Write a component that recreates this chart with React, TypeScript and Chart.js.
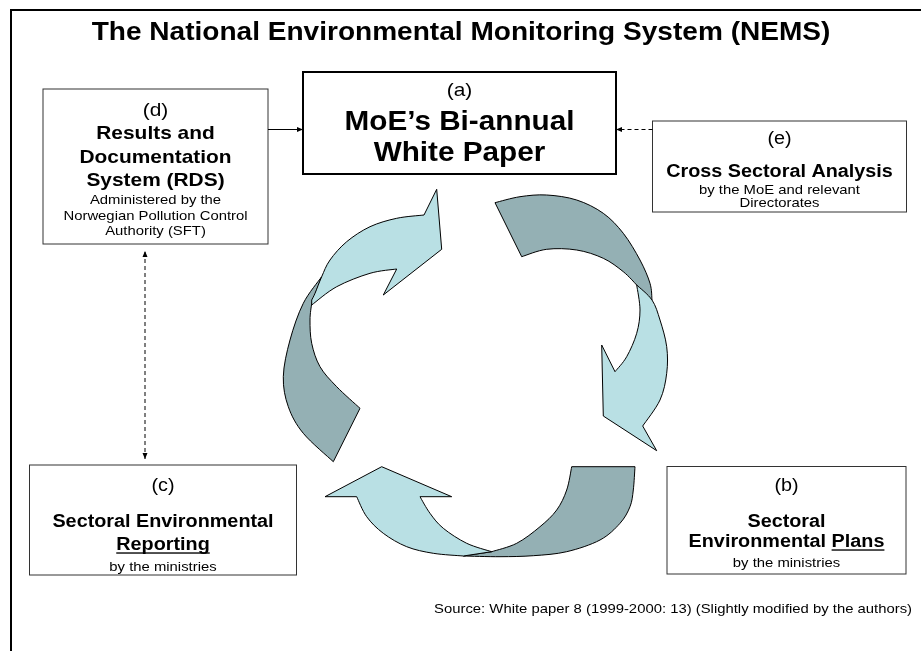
import { useEffect, useRef } from "react";
import { Chart, registerables } from "chart.js";

Chart.register(...registerables);

const CANVAS_W = 921;
const CANVAS_H = 651;
const TEXT_STRETCH = 1.1;
const FONT = '"Liberation Sans", Arial, Helvetica, sans-serif';

const TITLE = "The National Environmental Monitoring System (NEMS)";
const SOURCE = "Source: White paper 8 (1999-2000: 13) (Slightly modified by the authors)";

// Boxes of the diagram (a..e)
const BOX_IDS = ["a", "b", "c", "d", "e"];
const BOX_LEFT = [303, 667, 29.5, 43, 652.5];
const BOX_TOP = [72, 466.5, 465, 89, 121];
const BOX_RIGHT = [616, 906, 296.5, 268, 906.5];
const BOX_BOTTOM = [174, 574, 575, 244, 212];
const BOX_BORDER = ["#000000", "#333333", "#333333", "#333333", "#333333"];
const BOX_BORDER_W = [2, 1, 1, 1, 1];

// Text lines per box: [text, baseline, size, bold, underlined word]
type TextLine = [string, number, number, boolean, string?];
const LINES_A: TextLine[] = [
  ["(a)", 96, 19, false],
  ["MoE\u2019s Bi-annual", 129.5, 27, true],
  ["White Paper", 160.5, 27, true],
];
const LINES_B: TextLine[] = [
  ["(b)", 491, 18, false],
  ["Sectoral", 527, 18, true],
  ["Environmental Plans", 547, 18, true, "Plans"],
  ["by the ministries", 566.5, 13.5, false],
];
const LINES_C: TextLine[] = [
  ["(c)", 491, 18, false],
  ["Sectoral Environmental", 527, 18, true],
  ["Reporting", 550, 18, true, "Reporting"],
  ["by the ministries", 571, 13.5, false],
];
const LINES_D: TextLine[] = [
  ["(d)", 115.5, 19, false],
  ["Results and", 139, 19, true],
  ["Documentation", 162.5, 19, true],
  ["System (RDS)", 185.5, 19, true],
  ["Administered by the", 204, 13.5, false],
  ["Norwegian Pollution Control", 219.5, 13.5, false],
  ["Authority (SFT)", 235, 13.5, false],
];
const LINES_E: TextLine[] = [
  ["(e)", 144, 18, false],
  ["Cross Sectoral Analysis", 177, 18, true],
  ["by the MoE and relevant", 194, 13.5, false],
  ["Directorates", 207, 13.5, false],
];
const BOX_LINES = [LINES_A, LINES_B, LINES_C, LINES_D, LINES_E];

// Connectors between boxes: [x1, y1, x2, y2, dashed, headAtStart]
const CONNECTORS: [number, number, number, number, boolean, boolean][] = [
  [268, 129.5, 303, 129.5, false, false],
  [652.5, 129.5, 616, 129.5, true, false],
  [145, 459, 145, 251, true, true],
];

// Cycle arrows: runs of points (s = smooth curve through the points)
type Run = { s: boolean; p: [number, number][] };
const DARK_LEFT: Run[] = [
  { s: true, p: [[321.7, 276.7], [303.3, 303.3], [290, 340], [283.3, 376.7], [288.3, 406.7], [303.3, 433.3], [333.3, 461.7]] },
  { s: false, p: [[333.3, 461.7], [360, 408.3]] },
  { s: true, p: [[360, 408.3], [336.7, 386.7], [320, 366.7], [311.7, 343.3], [310, 320], [311.7, 303.3]] },
];
const LIGHT_TOP_LEFT: Run[] = [
  { s: true, p: [[311.7, 305], [336.7, 286.7], [370, 273.3], [396.7, 269]] },
  { s: false, p: [[396.7, 269], [383.3, 295], [441.7, 249.3], [436.7, 189.3], [424, 215]] },
  { s: true, p: [[424, 215], [396.7, 218.3], [370, 226.7], [346.7, 241.7], [330, 260], [321.7, 276.7], [315, 293.3], [311.7, 300]] },
];
const DARK_TOP_RIGHT: Run[] = [
  { s: false, p: [[521.7, 256.7], [495, 202.7]] },
  { s: true, p: [[495, 202.7], [520, 196.7], [546.7, 195], [576.7, 200], [603.3, 213.3], [623.3, 233.3], [640, 260], [650, 283.3], [652, 300]] },
  { s: false, p: [[652, 300], [636.7, 285]] },
  { s: true, p: [[636.7, 285], [623.3, 271.7], [603.3, 258.3], [576.7, 250], [546.7, 249.3], [521.7, 256.7]] },
];
const LIGHT_RIGHT: Run[] = [
  { s: true, p: [[636.7, 285], [652, 300], [660, 320], [666.7, 346.7], [666.7, 373.3], [660, 400], [642.7, 426]] },
  { s: false, p: [[642.7, 426], [656.7, 450.7], [603.3, 416], [601.7, 345], [615, 371.7]] },
  { s: true, p: [[615, 371.7], [626.7, 356.7], [636.7, 333.3], [640, 310], [636.7, 285]] },
];
const DARK_BOTTOM_RIGHT: Run[] = [
  { s: false, p: [[571.7, 466.7], [635, 466.7]] },
  { s: true, p: [[635, 466.7], [633.3, 490], [630, 506.7], [620, 523.3], [600, 540], [566.7, 551.7], [533.3, 555.7], [500, 556.7], [463.3, 556]] },
  { s: false, p: [[463.3, 556], [491.7, 551.7]] },
  { s: true, p: [[491.7, 551.7], [516.7, 543.3], [540, 526.7], [556.7, 510], [566.7, 490], [571.7, 466.7]] },
];
const LIGHT_BOTTOM: Run[] = [
  { s: true, p: [[463.3, 556], [433.3, 553.3], [406.7, 546.7], [383.3, 533.3], [366.7, 516.7], [356.7, 496.7]] },
  { s: false, p: [[356.7, 496.7], [325, 496.7], [381.7, 466.7], [451.7, 496.7], [420, 496.7]] },
  { s: true, p: [[420, 496.7], [430, 513.3], [443.3, 528.3], [466.7, 543.3], [491.7, 551.7]] },
];
const CYCLE_SHAPES = [DARK_LEFT, LIGHT_TOP_LEFT, DARK_TOP_RIGHT, LIGHT_RIGHT, DARK_BOTTOM_RIGHT, LIGHT_BOTTOM];
const CYCLE_COLORS = ["#94b0b4", "#b9e0e4", "#94b0b4", "#b9e0e4", "#94b0b4", "#b9e0e4"];

function drawTextLine(
  ctx: CanvasRenderingContext2D,
  cx: number,
  baseline: number,
  text: string,
  size: number,
  bold: boolean,
  underline?: string,
  align: "center" | "right" = "center"
) {
  ctx.font = `${bold ? "bold " : ""}${size}px ${FONT}`;
  const natural = ctx.measureText(text).width;
  const total = natural * TEXT_STRETCH;
  const left = align === "center" ? cx - total / 2 : cx - total;
  ctx.save();
  ctx.translate(left, baseline);
  ctx.scale(TEXT_STRETCH, 1);
  ctx.textAlign = "left";
  ctx.textBaseline = "alphabetic";
  ctx.fillStyle = "#000";
  ctx.fillText(text, 0, 0);
  if (underline) {
    const idx = text.indexOf(underline);
    const pre = ctx.measureText(text.slice(0, idx)).width;
    const uw = ctx.measureText(underline).width;
    ctx.fillRect(pre, size * 0.13, uw, Math.max(1.2, size * 0.075));
  }
  ctx.restore();
}

const diagramPlugin = {
  id: "nemsDiagram",
  beforeDraw(chart: any) {
    const ctx = chart.ctx as CanvasRenderingContext2D;
    ctx.save();
    ctx.fillStyle = "#ffffff";
    ctx.fillRect(0, 0, chart.width, chart.height);
    ctx.restore();
  },
  afterDatasetsDraw(chart: any) {
    const ctx = chart.ctx as CanvasRenderingContext2D;
    const xs = chart.scales.x;
    const ys = chart.scales.y;
    const px = (v: number) => xs.getPixelForValue(v);
    const py = (v: number) => ys.getPixelForValue(v);

    ctx.save();
    // outer frame (top and left)
    ctx.strokeStyle = "#000";
    ctx.lineWidth = 2;
    ctx.beginPath();
    ctx.moveTo(px(CANVAS_W), py(10));
    ctx.lineTo(px(11), py(10));
    ctx.lineTo(px(11), py(CANVAS_H));
    ctx.stroke();

    // title
    drawTextLine(ctx, px(461), py(39.5), TITLE, 25.5, true);

    // cycle arrows
    CYCLE_SHAPES.forEach((shape, si) => {
      ctx.beginPath();
      const first = shape[0].p[0];
      ctx.moveTo(px(first[0]), py(first[1]));
      shape.forEach((run) => {
        const pts = run.p.map(([x, y]) => [px(x), py(y)]);
        if (run.s) {
          for (let i = 0; i < pts.length - 1; i++) {
            const p0 = pts[i - 1] || pts[i];
            const p1 = pts[i];
            const p2 = pts[i + 1];
            const p3 = pts[i + 2] || pts[i + 1];
            ctx.bezierCurveTo(
              p1[0] + (p2[0] - p0[0]) / 6,
              p1[1] + (p2[1] - p0[1]) / 6,
              p2[0] - (p3[0] - p1[0]) / 6,
              p2[1] - (p3[1] - p1[1]) / 6,
              p2[0],
              p2[1]
            );
          }
        } else {
          for (let i = 1; i < pts.length; i++) ctx.lineTo(pts[i][0], pts[i][1]);
        }
      });
      ctx.closePath();
      ctx.fillStyle = CYCLE_COLORS[si];
      ctx.fill();
      ctx.strokeStyle = "#000";
      ctx.lineWidth = 1;
      ctx.lineJoin = "miter";
      ctx.stroke();
    });

    // boxes
    BOX_IDS.forEach((_, i) => {
      const x0 = px(BOX_LEFT[i]);
      const y0 = py(BOX_TOP[i]);
      const x1 = px(BOX_RIGHT[i]);
      const y1 = py(BOX_BOTTOM[i]);
      ctx.fillStyle = "#fff";
      ctx.fillRect(x0, y0, x1 - x0, y1 - y0);
      ctx.strokeStyle = BOX_BORDER[i];
      ctx.lineWidth = BOX_BORDER_W[i];
      ctx.strokeRect(x0, y0, x1 - x0, y1 - y0);
      const cx = (BOX_LEFT[i] + BOX_RIGHT[i]) / 2;
      BOX_LINES[i].forEach(([t, b, size, bold, u]) => {
        drawTextLine(ctx, px(cx), py(b), t, size, bold, u);
      });
    });

    // connectors
    CONNECTORS.forEach(([x1, y1, x2, y2, dashed, headStart]) => {
      const ax = px(x1), ay = py(y1), bx = px(x2), by = py(y2);
      ctx.strokeStyle = "#000";
      ctx.lineWidth = 1;
      ctx.setLineDash(dashed ? [4, 3] : []);
      ctx.beginPath();
      ctx.moveTo(ax, ay);
      ctx.lineTo(bx, by);
      ctx.stroke();
      ctx.setLineDash([]);
      const head = (hx: number, hy: number, fx: number, fy: number) => {
        const ang = Math.atan2(hy - fy, hx - fx);
        const len = 6, hw = 2.5;
        ctx.beginPath();
        ctx.moveTo(hx, hy);
        ctx.lineTo(hx - len * Math.cos(ang) + hw * Math.sin(ang), hy - len * Math.sin(ang) - hw * Math.cos(ang));
        ctx.lineTo(hx - len * Math.cos(ang) - hw * Math.sin(ang), hy - len * Math.sin(ang) + hw * Math.cos(ang));
        ctx.closePath();
        ctx.fillStyle = "#000";
        ctx.fill();
      };
      head(bx, by, ax, ay);
      if (headStart) head(ax, ay, bx, by);
    });

    // source note
    drawTextLine(ctx, px(912), py(613), SOURCE, 13.5, false, undefined, "right");
    ctx.restore();
  },
};

export default function App() {
  const ref = useRef<HTMLCanvasElement>(null);
  useEffect(() => {
    document.body.style.margin = "0";
    const canvas = ref.current;
    if (!canvas) return;
    const chart = new Chart(canvas, {
      type: "scatter",
      data: { datasets: [{ data: [], pointRadius: 0 }] },
      options: {
        animation: false,
        responsive: false,
        maintainAspectRatio: false,
        events: [],
        layout: { padding: 0 },
        plugins: {
          legend: { display: false },
          tooltip: { enabled: false },
          title: { display: false },
        },
        scales: {
          x: { type: "linear", min: 0, max: CANVAS_W, display: false },
          y: { type: "linear", min: 0, max: CANVAS_H, reverse: true, display: false },
        },
      },
      plugins: [diagramPlugin],
    });
    return () => chart.destroy();
  }, []);
  return (
    <canvas
      ref={ref}
      width={CANVAS_W}
      height={CANVAS_H}
      style={{ display: "block", width: CANVAS_W, height: CANVAS_H }}
    />
  );
}
